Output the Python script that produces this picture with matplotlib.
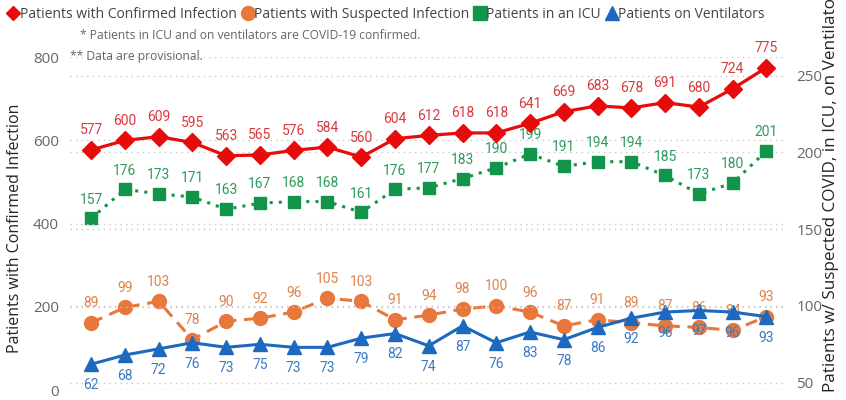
import matplotlib.pyplot as plt
from matplotlib.lines import Line2D

plt.rcParams['font.family'] = ['Open Sans', 'DejaVu Sans']

dates = ["4/%d/2020" % d for d in range(14, 31)] + ["5/%d/2020" % d for d in range(1, 5)]
confirmed = [577, 600, 609, 595, 563, 565, 576, 584, 560, 604, 612, 618, 618, 641, 669, 683, 678, 691, 680, 724, 775]
icu = [157, 176, 173, 171, 163, 167, 168, 168, 161, 176, 177, 183, 190, 199, 191, 194, 194, 185, 173, 180, 201]
suspected = [89, 99, 103, 78, 90, 92, 96, 105, 103, 91, 94, 98, 100, 96, 87, 91, 89, 87, 86, 84, 93]
ventilators = [62, 68, 72, 76, 73, 75, 73, 73, 79, 82, 74, 87, 76, 83, 78, 86, 92, 96, 97, 96, 93]

RED, RED_L = '#E80B0B', '#D93A3F'
ORANGE, ORANGE_L = '#E8773C', '#E08350'
GREEN, GREEN_L = '#12954A', '#2E9B5C'
BLUE, BLUE_L = '#1E69C0', '#3A7BC4'
GRAY = '#666666'

fig = plt.figure(figsize=(8.46, 4.0), dpi=100)
ax = fig.add_axes([0.083, 0.025, 0.842, 0.832])
ax2 = ax.twinx()
x = list(range(len(dates)))

ax.set_ylim(0, 800)
ax2.set_ylim(45.2, 262.1)
ax.set_xlim(-0.62, 20.48)

for a in (ax, ax2):
    for s in a.spines.values():
        s.set_visible(False)
    a.tick_params(length=0, colors=GRAY, labelsize=11)
ax.set_yticks([0, 200, 400, 600, 800])
ax2.set_yticks([50, 100, 150, 200, 250])
ax.tick_params(axis='y', pad=8)
ax2.tick_params(axis='y', pad=10)
for v in [0, 200, 400, 600, 800]:
    ax.axhline(v, color='#C8C8C8', lw=1, ls=(0, (1, 3)), zorder=0)
for v in [50, 100, 150, 200, 250]:
    ax2.axhline(v, color='#C8C8C8', lw=1, ls=(0, (1, 3)), zorder=0)

# date labels sit below the frame and are cut by the figure edge, as in the source
ax.set_xticks(x)
ax.set_xticklabels(dates, rotation=45, ha='right', rotation_mode='anchor', fontsize=10, color=GRAY)
ax.tick_params(axis='x', pad=6)

ax.plot(x, confirmed, color=RED, lw=2.3, marker='D', ms=9, zorder=5)
ax2.plot(x, icu, color=GREEN, lw=2.2, ls=(0, (1, 2)), marker='s', ms=9, zorder=3)
ax2.plot(x, suspected, color=ORANGE, lw=2.2, ls=(0, (4, 2.5)), marker='o', ms=10, zorder=3)
ax2.plot(x, ventilators, color=BLUE, lw=2.2, marker='^', ms=10, zorder=4)

lbl = dict(ha='center', fontsize=10, family=['Roboto', 'DejaVu Sans'])
for i in x:
    ax.annotate(str(confirmed[i]), (i, confirmed[i]), xytext=(0, 9), textcoords='offset points', va='bottom', color=RED_L, **lbl)
    ax2.annotate(str(icu[i]), (i, icu[i]), xytext=(0, 8.5), textcoords='offset points', va='bottom', color=GREEN_L, **lbl)
    ax2.annotate(str(suspected[i]), (i, suspected[i]), xytext=(0, 9), textcoords='offset points', va='bottom', color=ORANGE_L, **lbl)
    ax2.annotate(str(ventilators[i]), (i, ventilators[i]), xytext=(0, -10), textcoords='offset points', va='top', color=BLUE_L, **lbl)

ax.set_zorder(ax2.get_zorder() + 1)
ax.patch.set_visible(False)

fig.text(0.018, 0.43, "Patients with Confirmed Infection", rotation=90, ha='center', va='center', fontsize=11.5, color='#252423')
fig.text(0.982, 0.02, "Patients w/ Suspected COVID, in ICU, on Ventilators", rotation=90, ha='center', va='bottom', fontsize=12.3, color='#252423')

fig.text(0.094, 0.912, "* Patients in ICU and on ventilators are COVID-19 confirmed.", fontsize=8.7, color=GRAY, va='center')
fig.text(0.083, 0.858, "** Data are provisional.", fontsize=8.7, color=GRAY, va='center')

handles = [
    Line2D([], [], color=RED, marker='D', ls='none', ms=7),
    Line2D([], [], color=ORANGE, marker='o', ls='none', ms=10),
    Line2D([], [], color=GREEN, marker='s', ls='none', ms=10),
    Line2D([], [], color=BLUE, marker='^', ls='none', ms=10),
]
names = ["Patients with Confirmed Infection", "Patients with Suspected Infection",
         "Patients in an ICU", "Patients on Ventilators"]
fig.legend(handles, names, loc='upper left', bbox_to_anchor=(-0.004, 1.015), ncol=4, frameon=False,
           handlelength=0.6, handletextpad=0.15, columnspacing=0.5, fontsize=10, labelcolor='#444444')

fig.savefig('out.png', dpi=100)
